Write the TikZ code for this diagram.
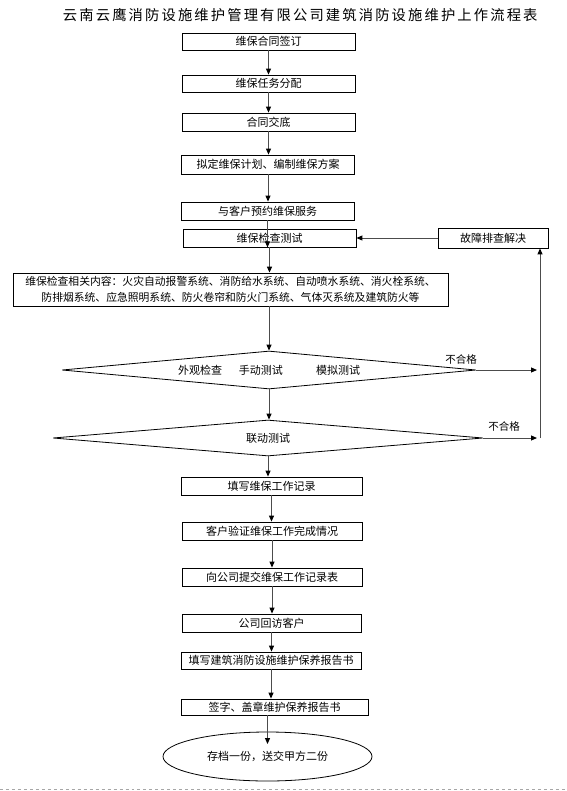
\documentclass[tikz,border=0pt]{standalone}
\usepackage{fontspec}
\setmainfont{Noto Sans CJK SC}
\usetikzlibrary{shapes.geometric,arrows.meta,calc}

\begin{document}
\begin{tikzpicture}[x=1bp, y=-1bp,
every node/.style={%anchor=base,
    inner sep=1pt, font=\fontsize{11bp}{16bp}\selectfont
    },
stepbox/.style={draw, line width=0.8bp, minimum width=173bp, minimum height=18bp},
choice/.style={draw, diamond, line width=0.8bp, inner sep=0pt},
arr/.style={draw=black!70, line width=1bp, -{Triangle[length=6bp,width=5bp,color=black]}},
fail/.style={font=\fontsize{10.5bp}{12bp}\selectfont}
]
\useasboundingbox (0,0) rectangle (567,791);

\node[font=\fontsize{14.3bp}{18bp}\selectfont] (title) at (277,15)
    {\makebox[428bp][s]{云 南 云 鹰 消 防 设 施 维 护 管 理 有 限 公 司 建 筑 消 防 设 施 维 护 上 作 流 程 表}};

\node[stepbox, minimum height=17bp] (b1) at (268.5,41.5) {维保合同签订};
\node[stepbox, minimum height=17bp] (b2) at (268.5,83.5) {维保任务分配};
\node[stepbox] (b3) at (268.5,122) {合同交底};
\node[stepbox, minimum height=19bp] (b4) at (268,164.5) {拟定维保计划、编制维保方案};
\node[stepbox] (b5) at (267.5,211) {与客户预约维保服务};
\node[stepbox] (b6) at (269.5,238) {维保检查测试};
\node[stepbox, minimum width=110bp, minimum height=20bp] (fault) at (493,238) {故障排查解决};
\node[stepbox, minimum width=435bp, minimum height=33bp, align=center,
      font=\fontsize{10.8bp}{16bp}\selectfont] (info) at (230.5,289.5)
    {维保检查相关内容：火灾自动报警系统、消防给水系统、自动喷水系统、消火栓系统、\\
     防排烟系统、应急照明系统、防火卷帘和防火门系统、气体灭系统及建筑防火等};

\node[choice, shape aspect=10.9, minimum width=414bp, minimum height=38bp] (d1) at (269,370)
    {外观检查\hspace{17bp}手动测试\hspace{33bp}模拟测试};
\node[choice, shape aspect=11.9, minimum width=430bp, minimum height=36bp] (d2) at (268,438) {联动测试};

\node[stepbox, minimum width=181bp] (b7) at (271.5,486) {填写维保工作记录};
\node[stepbox, minimum width=180bp] (b8) at (272,531) {客户验证维保工作完成情况};
\node[stepbox, minimum width=180bp] (b9) at (272,577) {向公司提交维保工作记录表};
\node[stepbox, minimum width=179bp] (b10) at (271.5,623) {公司回访客户};
\node[stepbox, minimum width=180bp, minimum height=17bp] (b11) at (271,660.5) {填写建筑消防设施维护保养报告书};
\node[stepbox, minimum width=187bp, minimum height=16bp] (b12) at (274.5,707) {签字、盖章维护保养报告书};
\node[draw, ellipse, line width=0.8bp, minimum width=209bp, minimum height=49bp] (end) at (267.5,756.5)
    {存档一份，送交甲方二份};

\node[fail] (no1) at (461,359) {不合格};
\node[fail] (no2) at (504,426) {不合格};
\coordinate (r1) at (537,370);
\coordinate (r2) at (537,438);
\coordinate (up) at (540,438);

\foreach \i/\j in {b1/b2, b2/b3, b3/b4, b4/b5,%
                   b7/b8, b8/b9, b9/b10, b10/b11, b11/b12%
            }
    \draw[arr] (\i.south) -- (\i.south |- \j.north);

\draw[arr] (b5.south) -- (b5.south |- b6.south);
\draw[arr, line width=1.4bp] (b6.south) -- (b6.south |- info.north);
\draw[arr] (d1.north |- info.south) -- (d1.north);
\draw[arr] (d1.south) -- (d1.south |- d2.north);
\draw[arr] (d2.south) -- (d2.south |- b7.north);
\draw[arr] (end.north |- b12.south) -- ($(end.north)!0.5!(end.center)$);

\draw[arr] (d1.east) -- (r1);
\draw[arr] (d2.east) -- (r2);
\draw[arr] (up) -- (up |- fault.south);
\draw[arr] (fault.west) -- (b6.east);

\draw[black!35, dashed] (0,789) -- (567,789);
\end{tikzpicture}
\end{document}
